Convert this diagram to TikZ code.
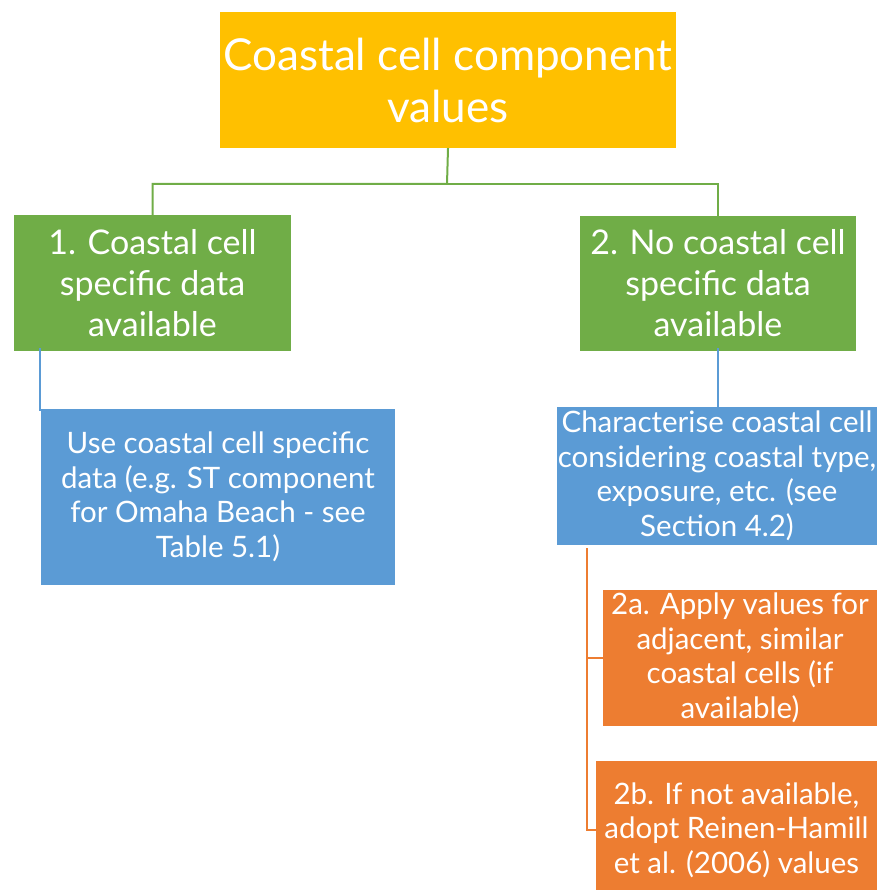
\documentclass[tikz,border=0pt]{standalone}
\usepackage{fontspec}
\setmainfont{Lato}
\definecolor{rootgold}{HTML}{FFC000}
\definecolor{optgreen}{HTML}{70AD47}
\definecolor{stepblue}{HTML}{5B9BD5}
\definecolor{subornge}{HTML}{ED7D31}
\begin{document}
\begin{tikzpicture}[x=1pt,y=-1pt,
  box/.style={draw=none, text=white, align=center, inner sep=0pt, anchor=center},
  big/.style={font=\fontsize{44}{52}\selectfont},
  mid/.style={font=\fontsize{34}{41}\selectfont},
  small/.style={font=\fontsize{29.5}{34.5}\selectfont},
  link/.style={line width=2pt}]
\useasboundingbox (0,0) rectangle (877,890);

% boxes
\node[box, big, fill=rootgold, minimum width=456pt, minimum height=136pt] (root) at (448,80)
  {Coastal cell component\\values};
\node[box, mid, fill=optgreen, minimum width=277pt, minimum height=136pt] (c1) at (152.5,283)
  {1. Coastal cell\\specific data\\available};
\node[box, mid, fill=optgreen, minimum width=276pt, minimum height=135pt] (c2) at (718,283.5)
  {2. No coastal cell\\specific data\\available};
\node[box, small, fill=stepblue, minimum width=354pt, minimum height=176pt] (b1) at (218,497)
  {Use coastal cell specific\\data (e.g. ST component\\for Omaha Beach - see\\Table 5.1)};
\node[box, small, fill=stepblue, minimum width=320pt, minimum height=138pt] (b2) at (717,476)
  {Characterise coastal cell\\considering coastal type,\\exposure, etc. (see\\Section 4.2)};
\node[box, small, fill=subornge, minimum width=274pt, minimum height=136pt] (o1) at (740,658)
  {2a. Apply values for\\adjacent, similar\\coastal cells (if\\available)};
\node[box, small, fill=subornge, minimum width=281pt, minimum height=138pt] (o2) at (736.5,830)
  {2b. If not available,\\adopt Reinen-Hamill\\et al. (2006) values};

% connectors
\coordinate (j) at (447,184);
\draw[link, optgreen] (root.south) -- (j) -| (c1.north);
\draw[link, optgreen] (j) -| (c2.north);
\draw[link, stepblue] ([xshift=-1pt,yshift=3pt]b1.north west |- c1.south) -- ([xshift=-1pt,yshift=-2pt]b1.north west);
\draw[link, stepblue] ([yshift=3pt]c2.south) -- ([yshift=-2pt]c2.south |- b2.north);
\coordinate (sp) at (587,548);
\draw[link, subornge] (sp) -- (sp |- o2.west) -- (o2.west);
\draw[link, subornge] (sp |- o1.west) -- (o1.west);
\end{tikzpicture}
\end{document}
